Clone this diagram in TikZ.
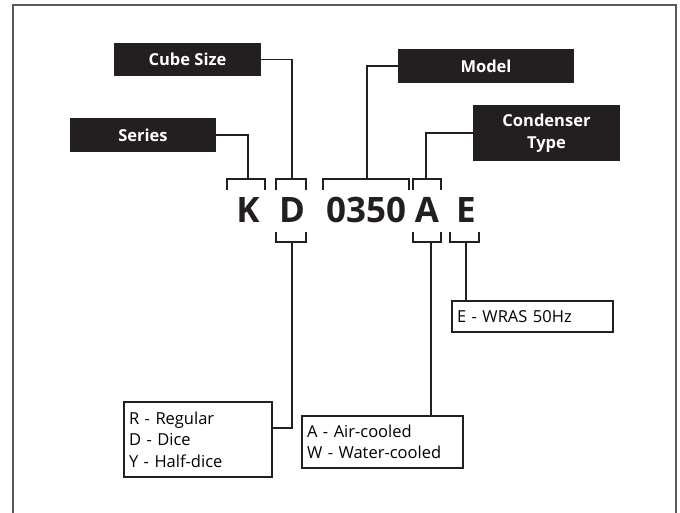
\documentclass[tikz,border=0pt]{standalone}
\usepackage{fontspec}
\setmainfont{Open Sans}
\definecolor{ink}{HTML}{231F20}
\definecolor{framegray}{HTML}{5A5A5A}
\begin{document}
\begin{tikzpicture}[x=1pt,y=-1pt,
  darkbox/.style={fill=ink,text=white,font=\bfseries\fontsize{16.5}{22.5}\selectfont,inner sep=0pt,align=center},
  optbox/.style={draw=ink,line width=1.8pt,fill=white,inner sep=0pt,font=\fontsize{16.5}{21.5}\selectfont,align=left},
  code/.style={text=ink,font=\bfseries\fontsize{35}{40}\selectfont,inner sep=0pt,anchor=base},
  conn/.style={draw=ink,line width=1.8pt}]
\useasboundingbox (0,0) rectangle (680,512);
\begin{scope}
\clip (0,0) rectangle (680,512);
\draw[framegray,line width=1.6pt] (13,5) rectangle (676,520);
\end{scope}
% dark label boxes
\node[darkbox,minimum width=147pt,minimum height=33pt] (cube) at (187.5,59.5) {Cube Size};
\node[darkbox,minimum width=146pt,minimum height=34pt] (series) at (143,135) {Series};
\node[darkbox,minimum width=176pt,minimum height=34pt] (model) at (486,66) {Model};
\node[darkbox,minimum width=147pt,minimum height=56pt] (cond) at (546.5,133) {Condenser\\Type};
% code letters
\node[code] (K) at (248,222) {K};
\node[code] (D) at (292,222) {D};
\node[code] (num) at (366,222) {0350};
\node[code] (A) at (427,222) {A};
\node[code] (E) at (466,222) {E};
% option boxes
\node[optbox,minimum width=148pt,minimum height=75pt,text width=138pt] (rbox) at (198,439.5) {R - Regular\\D - Dice\\Y - Half-dice};
\node[optbox,minimum width=161pt,minimum height=52pt,text width=151pt] (abox) at (382.5,442) {A - Air-cooled\\W - Water-cooled};
\node[optbox,minimum width=161pt,minimum height=31pt,text width=151pt] (ebox) at (532.5,316.5) {E - WRAS 50Hz};
% top brackets
\coordinate (kt) at (248,179);
\coordinate (dt) at (292,179);
\coordinate (nt) at (367,179);
\coordinate (at) at (426,179);
\draw[conn] (227,190) |- (kt) -| (265,190);
\draw[conn] (276,190) |- (dt) -| (306,190);
\draw[conn] (323,190) |- (nt) -| (409,190);
\draw[conn] (413,190) |- (at) -| (441,190);
% bottom brackets
\coordinate (db) at (292,242);
\coordinate (ab) at (431,242);
\coordinate (eb) at (466,242);
\draw[conn] (276,232) |- (db) -| (306,232);
\draw[conn] (413,232) |- (ab) -| (441,232);
\draw[conn] (450,232) |- (eb) -| (479,232);
% connectors to labels
\draw[conn] (series.east) -| (kt);
\draw[conn] (cube.east) -| (dt);
\draw[conn] (model.west) -| (nt);
\draw[conn] (cond.west) -| (at);
\draw[conn] (db) |- (rbox.east |- 0,428);
\draw[conn] (ab) -- (ab |- abox.north);
\draw[conn] (eb) -- (eb |- ebox.north);
\end{tikzpicture}
\end{document}
